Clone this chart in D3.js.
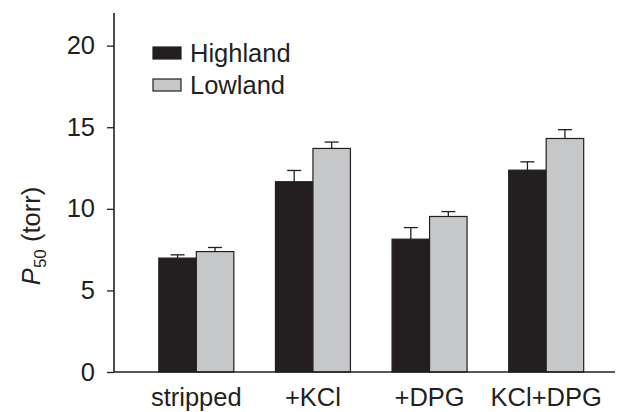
<!DOCTYPE html>
<html>
<head>
<meta charset="utf-8">
<script src="https://cdn.jsdelivr.net/npm/d3@7"></script>
<style>
  body { margin: 0; background: #fff; }
  text { font-family: "Liberation Sans", Arial, sans-serif; fill: #231f20; }
</style>
</head>
<body>
<svg id="chart" width="624" height="412"></svg>
<script>
// data
const categories = ['stripped', '+KCl', '+DPG', 'KCl+DPG'];
const groups = ['Highland', 'Lowland'];
const highland = [6.98, 11.66, 8.14, 12.37];
const highlandErr = [0.2, 0.69, 0.71, 0.51];
const lowland = [7.38, 13.70, 9.53, 14.31];
const lowlandErr = [0.25, 0.39, 0.3, 0.54];
const yTicks = [0, 5, 10, 15, 20];

const colors = {Highland: '#231f20', Lowland: '#c6c7c9'};
const fs = 25.5;

const svg = d3.select('#chart');
const axisX = 114, axisY = 372;

const y = d3.scaleLinear().domain([0, 22]).range([axisY, 13]);
const x0 = d3.scaleBand().domain(categories).range([138, 604.5])
    .paddingInner(0.357).paddingOuter(0.1785);
const x1 = d3.scaleBand().domain(groups).range([0, x0.bandwidth()]);

const rows = [];
categories.forEach((c, i) => {
    rows.push({cat: c, grp: 'Highland', v: highland[i], e: highlandErr[i]});
    rows.push({cat: c, grp: 'Lowland', v: lowland[i], e: lowlandErr[i]});
});

// error bars (upper only), drawn under the bars
const err = svg.append('g').attr('stroke', '#231f20').attr('stroke-width', 1.3);
rows.forEach(d => {
    const cx = x0(d.cat) + x1(d.grp) + x1.bandwidth() / 2;
    err.append('line').attr('x1', cx).attr('x2', cx).attr('y1', y(d.v)).attr('y2', y(d.v + d.e));
    err.append('line').attr('x1', cx - 7).attr('x2', cx + 7).attr('y1', y(d.v + d.e)).attr('y2', y(d.v + d.e));
});

svg.append('g').selectAll('rect').data(rows).enter().append('rect')
    .attr('x', d => x0(d.cat) + x1(d.grp))
    .attr('y', d => y(d.v))
    .attr('width', x1.bandwidth())
    .attr('height', d => y(0) - y(d.v))
    .attr('fill', d => colors[d.grp])
    .attr('stroke', '#231f20')
    .attr('stroke-width', 1.2);

// y axis
const yAxis = svg.append('g').attr('transform', `translate(${axisX},0)`)
    .call(d3.axisLeft(y).tickValues(yTicks).tickSize(7).tickPadding(12).tickSizeOuter(0));
yAxis.select('.domain').remove();
yAxis.selectAll('.tick line').attr('stroke', '#231f20').attr('stroke-width', 1.3);
yAxis.selectAll('.tick text').attr('font-size', fs).attr('fill', '#231f20')
    .attr('font-family', '"Liberation Sans", Arial, sans-serif');
svg.append('line').attr('x1', axisX).attr('x2', axisX).attr('y1', y(22)).attr('y2', axisY)
    .attr('stroke', '#231f20').attr('stroke-width', 1.6);

// x axis
svg.append('line').attr('x1', axisX).attr('x2', 615).attr('y1', axisY).attr('y2', axisY)
    .attr('stroke', '#231f20').attr('stroke-width', 1.6);
svg.append('g').selectAll('text').data(categories).enter().append('text')
    .attr('x', d => x0(d) + x0.bandwidth() / 2)
    .attr('y', 406)
    .attr('text-anchor', 'middle')
    .attr('font-size', fs)
    .text(d => d);

// y title
const title = svg.append('text')
    .attr('transform', 'translate(40,236) rotate(-90)')
    .attr('text-anchor', 'middle')
    .attr('font-size', fs);
title.append('tspan').attr('font-style', 'italic').text('P');
title.append('tspan').attr('font-size', 17).attr('dy', 6).text('50');
title.append('tspan').attr('dy', -6).text(' (torr)');

// legend
const legend = svg.append('g');
groups.forEach((g, i) => {
    const ly = 47 + i * 32;
    legend.append('rect').attr('x', 153).attr('y', ly).attr('width', 28).attr('height', 12)
        .attr('fill', colors[g]).attr('stroke', '#231f20').attr('stroke-width', 1.2);
    legend.append('text').attr('x', 190).attr('y', ly + 15).attr('font-size', fs).text(g);
});
</script>
</body>
</html>
